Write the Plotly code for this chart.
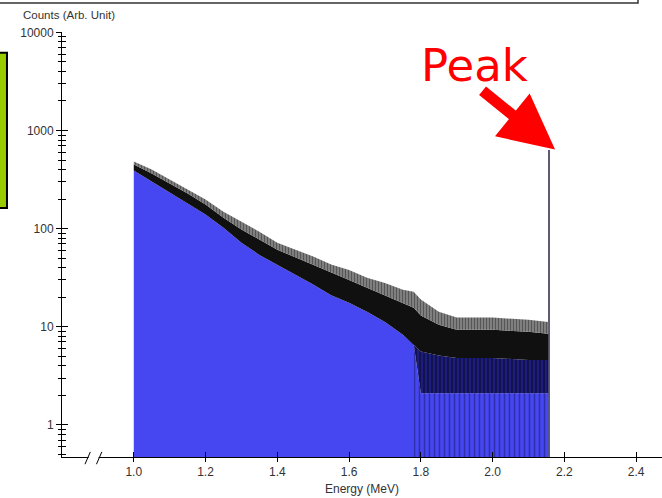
import math
import plotly.graph_objects as go

# Spectrum envelope, read at selected energies (MeV) -> counts
energy = [1.00, 1.05, 1.10, 1.15, 1.20, 1.25, 1.30, 1.35, 1.40, 1.45, 1.50, 1.55,
          1.60, 1.65, 1.70, 1.75, 1.78, 1.80, 1.85, 1.90, 2.00, 2.10, 2.155]
spike_tips = [483, 400, 316, 250, 198, 149, 118, 93, 72, 61, 52, 43,
              38, 31.6, 28, 23.9, 22.8, 19, 14.2, 12.4, 12.4, 11.8, 11.2]
band_top = [450, 364, 288, 228, 176, 129, 98, 77, 61, 51, 43, 36,
            30, 25, 21, 17.6, 15.6, 13, 10.5, 9.3, 9.3, 8.9, 8.5]
band_bottom = [391, 302, 233, 180, 139, 102, 72, 54, 43, 34, 27, 21,
               17.6, 14.2, 11.2, 8.3, 6.6, 5.6, 5.1, 4.8, 4.8, 4.6, 4.6]
# lower edge of the dark, low-statistics zone (few counts per bin)
mixed_floor = [391, 302, 233, 180, 139, 102, 72, 54, 43, 34, 27, 21,
               17.6, 14.2, 11.2, 8.3, 6.6, 2.1, 2.1, 2.1, 2.1, 2.1, 2.1]
tail_start = 16  # index of 1.78 MeV, where bins start dropping to zero

# Single-bin peak
peak_energy = 2.156
peak_counts = 640

x_ticks = [1.0, 1.2, 1.4, 1.6, 1.8, 2.0, 2.2, 2.4]
x_tick_text = ["1.0", "1.2", "1.4", "1.6", "1.8", "2.0", "2.2", "2.4"]
y_ticks = [1, 10, 100, 1000, 10000]
y_tick_text = ["1", "10", "100", "1000", "10000"]
y_minor = [m * 10 ** d for d in range(-1, 4) for m in range(2, 10) if m * 10 ** d >= 0.5]

X_RANGE = [0.8, 2.472]
Y_RANGE = [-0.327, 4.004]

BLUE = "#4747f2"
NAVY = "#1e1e82"
BLACK = "#101010"
LABEL = "#333333"
FONT = "Liberation Sans, Arial, sans-serif"

fig = go.Figure()


def band(y, fill, color, pattern=None, x=energy):
    fig.add_trace(go.Scatter(
        x=x, y=y, mode="lines", fill=fill, fillcolor=color, fillpattern=pattern,
        line=dict(width=0, color=color), hoverinfo="skip", showlegend=False,
    ))


# solid body of the spectrum
band(mixed_floor, "tozeroy", BLUE)
# dark, partly-filled zone of low-count bins
band(band_bottom, "tonexty", NAVY,
     dict(shape="|", fgcolor="#06061c", bgcolor=NAVY, size=4, solidity=0.55))
# dense statistical-noise band
band(band_top, "tonexty", BLACK)
# individual spikes poking above the band
band(spike_tips, "tonexty", "#8a8a8a",
     dict(shape="|", fgcolor="#111111", bgcolor="#9a9a9a", size=3, solidity=0.6))
# bins dropping to zero in the tail show as dark streaks through the fill
band(mixed_floor[tail_start:], "tozeroy", "rgba(0,0,0,0)",
     dict(shape="|", fgcolor="rgba(16,16,90,0.9)", bgcolor="rgba(0,0,0,0)",
          size=5, solidity=0.32),
     x=energy[tail_start:])

fig.add_trace(go.Bar(
    x=[peak_energy], y=[peak_counts], width=0.003,
    marker=dict(color="#5c5c72", line=dict(width=0)), showlegend=False,
))

# Overlay axes supply the inner half of the crossing tick marks
fig.add_trace(go.Scatter(x=[None], y=[None], xaxis="x2", yaxis="y2",
                         showlegend=False, hoverinfo="skip"))

axis_common = dict(showgrid=False, zeroline=False)
fig.update_layout(
    width=662, height=498,
    margin=dict(l=62, r=0, t=32, b=41),
    paper_bgcolor="white", plot_bgcolor="white",
    bargap=0,
    font=dict(family=FONT, size=12, color=LABEL),
    xaxis=dict(
        range=X_RANGE, tickmode="array", tickvals=x_ticks, ticktext=x_tick_text,
        ticks="outside", ticklen=4, tickcolor="black", tickwidth=1,
        showline=True, linecolor="black", linewidth=1,
        tickfont=dict(size=12, color=LABEL),
        title=dict(text="Energy (MeV)", font=dict(size=12, color=LABEL), standoff=6),
        **axis_common,
    ),
    xaxis2=dict(
        range=X_RANGE, overlaying="x", anchor="y2", side="bottom",
        tickmode="array", tickvals=x_ticks, ticks="inside", ticklen=5,
        tickcolor="black", showticklabels=False, showline=False, **axis_common,
    ),
    yaxis=dict(
        type="log", range=Y_RANGE, tickmode="array", tickvals=y_ticks, ticktext=y_tick_text,
        ticks="outside", ticklen=5, tickcolor="black", tickwidth=1,
        minor=dict(tickmode="array", tickvals=y_minor, ticks="outside", ticklen=3,
                   tickcolor="black", showgrid=False),
        showline=True, linecolor="black", linewidth=1,
        tickfont=dict(size=12, color=LABEL),
        **axis_common,
    ),
    yaxis2=dict(
        type="log", range=Y_RANGE, overlaying="y", anchor="x2", side="left",
        tickmode="array", tickvals=y_ticks, ticks="inside", ticklen=6, tickcolor="black",
        minor=dict(tickmode="array", tickvals=y_minor, ticks="inside", ticklen=4,
                   tickcolor="black", showgrid=False),
        showticklabels=False, showline=False, **axis_common,
    ),
)

# Axis title for counts, placed above the y axis
fig.add_annotation(
    text="Counts (Arb. Unit)", xref="paper", yref="paper",
    x=-0.068, y=1.04, xanchor="left", yanchor="middle", showarrow=False,
    font=dict(size=11.5, color=LABEL, family=FONT),
)

# Broken-axis mark on the energy axis
fig.add_shape(type="rect", xref="x", yref="paper", x0=0.874, x1=0.902, y0=-0.006, y1=0.006,
              fillcolor="white", line=dict(width=0), layer="above")
for x0, x1 in [(0.864, 0.879), (0.896, 0.911)]:
    fig.add_shape(type="line", xref="x", yref="paper", x0=x0, x1=x1, y0=-0.017, y1=0.012,
                  line=dict(color="black", width=1), layer="above")

# Frame pieces around the plot
fig.add_shape(type="rect", xref="paper", yref="paper", x0=-0.12, x1=0.96, y0=1.068, y1=1.2,
              line=dict(color="#333333", width=1.5), fillcolor="rgba(0,0,0,0)", layer="above")
fig.add_shape(type="rect", xref="paper", yref="paper", x0=-0.12, x1=-0.0917, y0=0.586, y1=0.951,
              line=dict(color="black", width=2), fillcolor="#99cc00", layer="above")

# "Peak" callout with arrow
fig.add_annotation(
    text="Peak", xref="paper", yref="paper", x=0.688, y=0.92,
    xanchor="center", yanchor="middle", showarrow=False,
    font=dict(size=45, color="#ff0000", family="DejaVu Sans, sans-serif"),
)
fig.add_annotation(
    text="", x=peak_energy + 0.018, y=math.log10(peak_counts), xref="x", yref="y",
    showarrow=True, arrowhead=2, arrowsize=1.0, arrowwidth=11, arrowcolor="#ff0000",
    ax=-74, ay=-60, axref="pixel", ayref="pixel", standoff=0,
)

fig.write_html("out.html")
